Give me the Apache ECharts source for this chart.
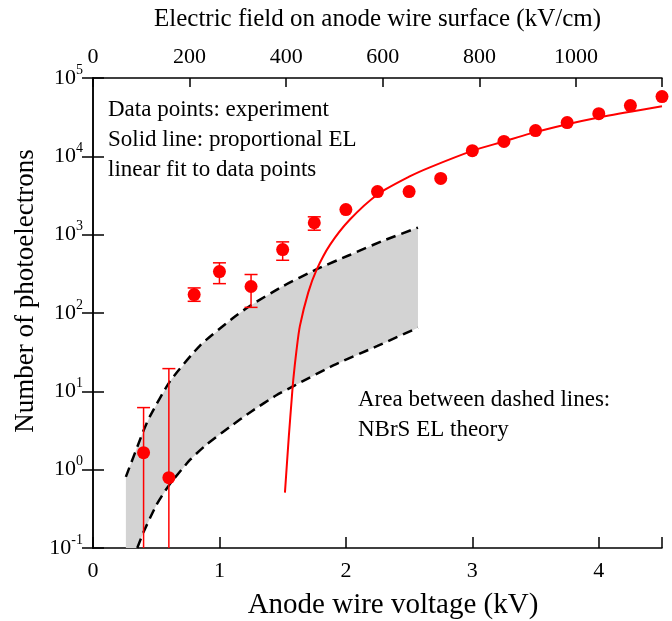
<!DOCTYPE html>
<html>
<head>
<meta charset="utf-8">
<script src="https://cdn.jsdelivr.net/npm/echarts@6/dist/echarts.min.js"></script>
<style>
html, body { margin: 0; padding: 0; background: #fff; }
#chart { width: 672px; height: 621px; }
</style>
</head>
<body>
<div id="chart"></div>
<script>
// experiment: anode voltage (kV) vs number of photoelectrons
const voltage = [0.4, 0.6, 0.8, 1.0, 1.25, 1.5, 1.75, 2.0, 2.25, 2.5, 2.75, 3.0, 3.25, 3.5, 3.75, 4.0, 4.25, 4.5]
const photoelectrons = [1.65, 0.79, 172, 338, 218, 646, 1420, 2090, 3550, 3550, 5230, 11800, 15500, 21300, 27000, 35000, 44500, 57900]
// error bars (null = hidden behind marker); low end of first two runs off the bottom
const errHigh = [6.2, 19.5, 209, 437, 310, 809, 1690, null, null, null, null, null, null, null, null, null, null, null]
const errLow = [0.1, 0.1, 141, 237, 118, 471, 1140, null, null, null, null, null, null, null, null, null, null, null]

// proportional EL, linear fit
const fitV = [1.518, 1.549, 1.571, 1.584, 1.610, 1.636, 1.702, 1.768, 1.874, 2.03, 2.256, 2.5, 2.664, 3.0, 3.25, 3.455, 3.75, 3.98, 4.25, 4.5]
const fitN = [0.51, 2.7, 7.8, 14.1, 34, 68, 182, 355, 740, 1550, 3310, 5500, 7240, 11750, 15500, 19500, 25700, 30900, 37150, 43650]

// NBrS EL theory band (dashed bounds)
const upperV = [0.26, 0.40, 0.45, 0.61, 0.85, 1.11, 1.24, 1.50, 1.77, 2.03, 2.29, 2.57]
const upperN = [0.81, 3.16, 4.8, 13.5, 39, 87, 123, 219, 363, 550, 832, 1230]
const lowerV = [0.35, 0.40, 0.50, 0.60, 0.77, 0.90, 1.08, 1.25, 1.45, 1.60, 1.90, 2.25, 2.57]
const lowerN = [0.1, 0.16, 0.35, 0.63, 1.35, 2.1, 3.5, 5.5, 8.9, 12.0, 21.4, 38, 65]

const Y_MIN = 0.1
const Y_MAX = 1e5
const V_MAX = 4.5
const E_MAX = 1178   // field at 4.5 kV

const FONT = 'Liberation Serif'
const chart = echarts.init(document.getElementById('chart'), null, { renderer: 'canvas' })

const axisLine = { show: true, lineStyle: { color: '#000', width: 1.5 } }
const tick = len => ({ inside: true, length: len, lineStyle: { color: '#000', width: 1.5 } })
const pairs = (xs, ys) => xs.map((x, i) => [x, ys[i]])

chart.setOption({
  animation: false,
  backgroundColor: '#fff',
  grid: { left: 93, right: 10, top: 78, bottom: 73 },
  xAxis: [
    {
      type: 'value', position: 'bottom', min: 0, max: V_MAX, interval: 1,
      axisLine, axisTick: tick(11),
      axisLabel: {
        margin: 12, fontFamily: FONT, fontSize: 22, color: '#000',
        formatter: v => Number.isInteger(v) ? String(v) : ''
      },
      splitLine: { show: false }
    },
    {
      type: 'value', position: 'top', min: 0, max: E_MAX, interval: 200,
      name: 'Electric field on anode wire surface (kV/cm)', nameLocation: 'middle', nameGap: 46,
      nameTextStyle: { fontFamily: FONT, fontSize: 25, color: '#000' },
      axisLine, axisTick: tick(9),
      axisLabel: {
        margin: 10, fontFamily: FONT, fontSize: 22, color: '#000',
        formatter: v => v % 200 === 0 ? String(v) : ''
      },
      splitLine: { show: false }
    }
  ],
  yAxis: [
    {
      type: 'log', logBase: 10, min: Y_MIN, max: Y_MAX, splitNumber: 6, position: 'left',
      axisLine, axisTick: tick(11),
      axisLabel: {
        margin: 10,
        formatter: v => '{b|10}{s|' + Math.round(Math.log10(v)) + '}',
        rich: {
          b: { fontFamily: FONT, fontSize: 22, color: '#000', lineHeight: 30 },
          s: { fontFamily: FONT, fontSize: 14, color: '#000', lineHeight: 14, verticalAlign: 'top' }
        }
      },
      minorTick: { show: false },
      splitLine: { show: false }
    },
    {
      type: 'log', logBase: 10, min: Y_MIN, max: Y_MAX, splitNumber: 6, position: 'right',
      axisLine, axisTick: tick(11),
      axisLabel: { show: false },
      splitLine: { show: false }
    }
  ],
  graphic: [
    {
      type: 'text', x: 26, y: 291, rotation: Math.PI / 2, z: 10,
      style: {
        text: 'Number of photoelectrons', font: '27px "Liberation Serif"', fill: '#000',
        textAlign: 'center', textVerticalAlign: 'middle'
      }
    },
    {
      type: 'text', x: 393, y: 605, z: 10,
      style: {
        text: 'Anode wire voltage (kV)', font: '29px "Liberation Serif"', fill: '#000',
        textAlign: 'center', textVerticalAlign: 'middle'
      }
    },
    {
      type: 'text', left: 108, top: 95, z: 10,
      style: {
        text: 'Data points: experiment\nSolid line: proportional EL\nlinear fit to data points',
        font: '23px "Liberation Serif"', fill: '#000', lineHeight: 30
      }
    },
    {
      type: 'text', left: 358, top: 385, z: 10,
      style: {
        text: 'Area between dashed lines:\nNBrS EL theory',
        font: '23px "Liberation Serif"', fill: '#000', lineHeight: 30
      }
    }
  ],
  series: [
    {
      // grey band between the theory bounds
      type: 'custom', xAxisIndex: 0, yAxisIndex: 0, z: 1, silent: true,
      data: [[1, 1]],
      renderItem: (params, api) => {
        const pts = []
        upperV.forEach((v, i) => pts.push(api.coord([v, upperN[i]])))
        for (let i = lowerV.length - 1; i >= 0; i--) pts.push(api.coord([lowerV[i], lowerN[i]]))
        pts.push(api.coord([upperV[0], Y_MIN]))
        return { type: 'polygon', shape: { points: pts }, style: { fill: '#d3d3d3' } }
      }
    },
    {
      type: 'line', xAxisIndex: 0, yAxisIndex: 0, z: 2, silent: true,
      data: pairs(upperV, upperN), showSymbol: false, smooth: 0.2,
      lineStyle: { color: '#000', width: 2.5, type: [10, 6] }
    },
    {
      type: 'line', xAxisIndex: 0, yAxisIndex: 0, z: 2, silent: true,
      data: pairs(lowerV, lowerN), showSymbol: false, smooth: 0.2,
      lineStyle: { color: '#000', width: 2.5, type: [10, 6] }
    },
    {
      type: 'line', xAxisIndex: 0, yAxisIndex: 0, z: 3, silent: true,
      data: pairs(fitV, fitN), showSymbol: false, smooth: 0.25,
      lineStyle: { color: '#ff0000', width: 2 }
    },
    {
      // error bars
      type: 'custom', xAxisIndex: 0, yAxisIndex: 0, z: 4, silent: true,
      data: voltage.map((v, i) => [v, errHigh[i], errLow[i]]).filter(d => d[1] != null),
      encode: { x: 0, y: [1, 2] },
      renderItem: (params, api) => {
        const hi = api.coord([api.value(0), api.value(1)])
        const lo = api.coord([api.value(0), api.value(2)])
        const w = 6.5
        const style = { stroke: '#ff0000', lineWidth: 1.5 }
        const children = [
          { type: 'line', shape: { x1: hi[0], y1: hi[1], x2: lo[0], y2: lo[1] }, style },
          { type: 'line', shape: { x1: hi[0] - w, y1: hi[1], x2: hi[0] + w, y2: hi[1] }, style }
        ]
        if (api.value(2) > Y_MIN) {
          children.push({ type: 'line', shape: { x1: lo[0] - w, y1: lo[1], x2: lo[0] + w, y2: lo[1] }, style })
        }
        return { type: 'group', children }
      }
    },
    {
      type: 'scatter', xAxisIndex: 0, yAxisIndex: 0, z: 5, silent: true,
      data: pairs(voltage, photoelectrons), symbol: 'circle', symbolSize: 13,
      itemStyle: { color: '#ff0000', opacity: 1 }
    }
  ]
})
</script>
</body>
</html>
